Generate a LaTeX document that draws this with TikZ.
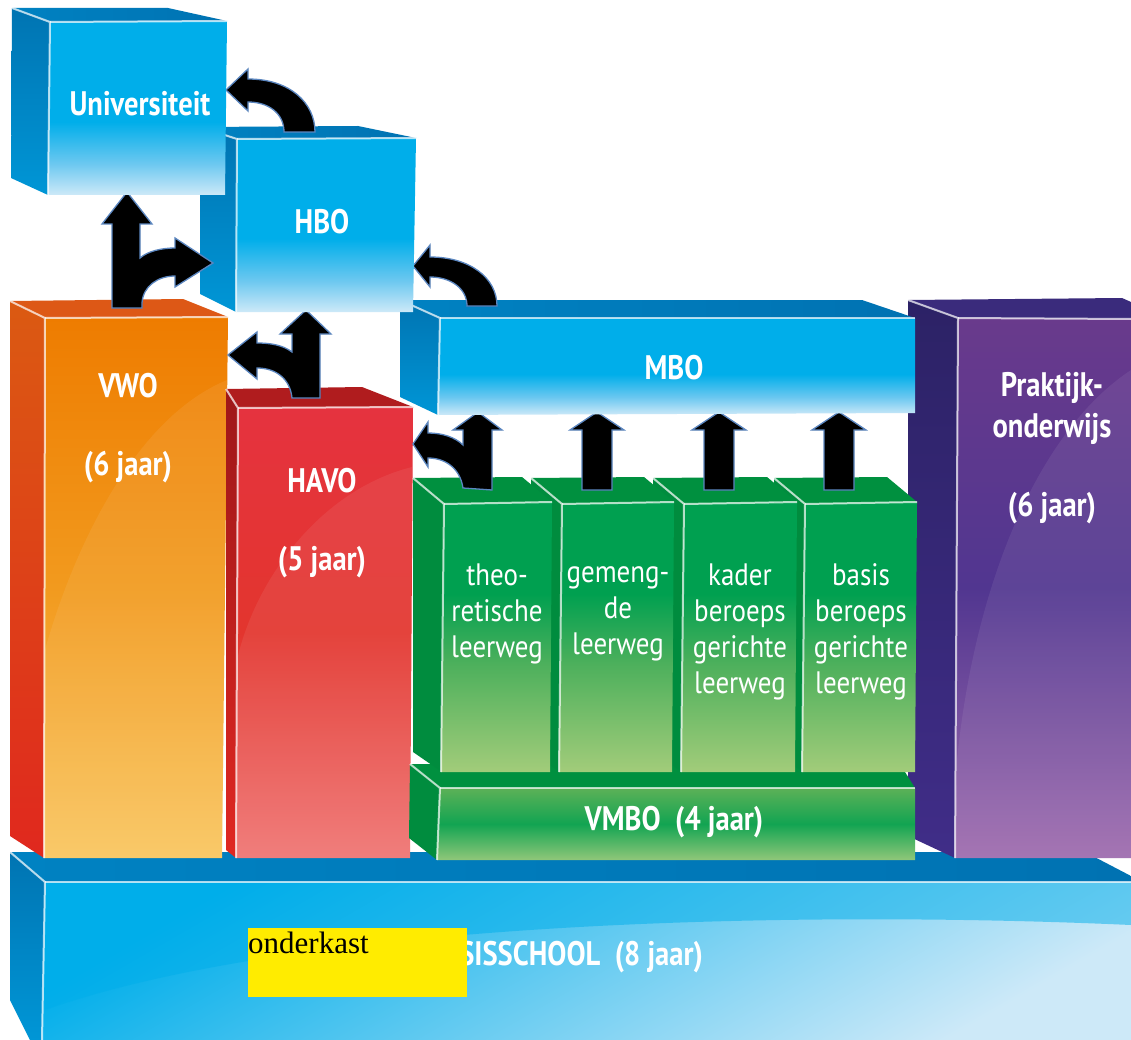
\documentclass[tikz,border=0pt]{standalone}
\usepackage{fontspec}
\setmainfont{PT Sans}
\newfontfamily\cond[FakeStretch=0.84]{PT Sans}
\newfontfamily\condr[FakeStretch=0.87]{PT Sans}
\newfontfamily\serifyel{Liberation Serif}
\definecolor{bTop}{HTML}{00AEEA}
\definecolor{bLight}{HTML}{6CC8F0}
\definecolor{bBot}{HTML}{CDE9F8}
\definecolor{bTopFace}{HTML}{0082C2}
\definecolor{bTopFaceB}{HTML}{0072B2}
\definecolor{bSideA}{HTML}{0074B2}
\definecolor{bSideB}{HTML}{0096D6}
\definecolor{oTop}{HTML}{EE7C00}
\definecolor{oMid}{HTML}{F29A1E}
\definecolor{oBot}{HTML}{F9C55E}
\definecolor{oSideA}{HTML}{DB5A12}
\definecolor{oSideB}{HTML}{E0281E}
\definecolor{oTopFace}{HTML}{DD5816}
\definecolor{rTop}{HTML}{E5333F}
\definecolor{rMid}{HTML}{E3352E}
\definecolor{rBot}{HTML}{EF7472}
\definecolor{rTopFace}{HTML}{B01C1E}
\definecolor{rSideA}{HTML}{9E1719}
\definecolor{rSideB}{HTML}{E02822}
\definecolor{pTop}{HTML}{693A8C}
\definecolor{pMid}{HTML}{513690}
\definecolor{pBot}{HTML}{9E6BAE}
\definecolor{pTopFace}{HTML}{3A2B7C}
\definecolor{pSideA}{HTML}{2C2266}
\definecolor{pSideB}{HTML}{402D88}
\definecolor{gTop}{HTML}{00A050}
\definecolor{gMid}{HTML}{4DB05C}
\definecolor{gBot}{HTML}{A2CC7A}
\definecolor{gTopFace}{HTML}{00903F}
\definecolor{gSide}{HTML}{008C3E}
\definecolor{vTop}{HTML}{5CB157}
\definecolor{vMid}{HTML}{12A452}
\definecolor{vBot}{HTML}{90C779}
\definecolor{arrowblue}{HTML}{5B86C0}
\definecolor{yel}{HTML}{FFEC00}
\pgfdeclareverticalshading{bluefr}{100bp}{color(0bp)=(bBot); color(25bp)=(bBot); color(34bp)=(bLight); color(46bp)=(bTop); color(100bp)=(bTop)}
\pgfdeclareverticalshading{greenfr}{100bp}{color(0bp)=(gBot); color(25bp)=(gBot); color(45bp)=(gMid); color(58bp)=(gTop); color(100bp)=(gTop)}
\tikzset{
  lbl/.style={text=white, font=\cond\bfseries\fontsize{34}{39}\selectfont, align=center},
  glbl/.style={text=white, font=\condr\fontsize{31}{36}\selectfont, align=center},
  arr/.style={fill=black, draw=arrowblue, line width=1.3pt, line join=miter},
  hl/.style={draw=white, line width=2pt, opacity=0.7},
  gloss/.style={fill=white, opacity=0.07},
  bfront/.style={shading=bluefr},
  bside/.style={top color=bSideA, bottom color=bSideB},
  btop/.style={left color=bTopFace, right color=bTopFaceB},
  ofront/.style={top color=oTop, bottom color=oBot, middle color=oMid},
  oside/.style={top color=oSideA, bottom color=oSideB},
  rfront/.style={top color=rTop, bottom color=rBot, middle color=rMid},
  rside/.style={top color=rSideA, bottom color=rSideB},
  pfront/.style={top color=pTop, bottom color=pBot, middle color=pMid},
  pside/.style={top color=pSideA, bottom color=pSideB},
  gfront/.style={shading=greenfr},
  vfront/.style={top color=vTop, bottom color=vBot, middle color=vMid},
}
\begin{document}
\begin{tikzpicture}[x=1pt,y=-1pt]
\useasboundingbox (0,0) rectangle (1131,1040);
\fill[white] (0,0) rectangle (1131,1040);

% ---------- Basisschool ----------
\shade[bside] (10,852) -- (45,882) -- (42,1040) -- (30,1040) -- (10,1000) -- cycle;
\shade[btop] (10,852) -- (1085,852) -- (1131,876) -- (1131,882) -- (45,882) -- cycle;
\shade[shading=axis, top color=bTop, bottom color=bBot, shading angle=30] (45,882) -- (1131,882) -- (1131,1040) -- (42,1040) -- cycle;
\fill[bTop, opacity=0.5] (45,882) -- (1131,882) -- (1131,925) .. controls (800,910) and (300,920) .. (45,1010) -- cycle;
\draw[hl] (10,852) -- (45,882) -- (42,1040);
\draw[hl] (45,882) -- (1131,882);
\node[lbl] (basis) at (564,957) {BASISSCHOOL\ \ (8 jaar)};
\node[fill=yel, minimum width=219pt, minimum height=69pt, inner sep=0pt, anchor=north west] (yb) at (248,928) {};
\node[anchor=base west, inner sep=0pt, font=\serifyel\fontsize{31}{35}\selectfont] (onderkast) at (248,953) {onderkast};

% ---------- Praktijkonderwijs ----------
\shade[pside] (908,300) -- (958,318) -- (955,858) -- (908,836) -- cycle;
\fill[pTopFace] (908,300) -- (1122,298) -- (1131,302) -- (1131,319) -- (958,318) -- cycle;
\shade[pfront] (958,318) -- (1131,319) -- (1131,858) -- (955,858) -- cycle;
\fill[gloss] (1131,370) .. controls (1040,430) and (975,580) .. (957,760) -- (955,858) -- (1131,858) -- cycle;
\draw[hl] (908,300) -- (958,318) -- (955,858);
\draw[hl] (958,318) -- (1131,319);
\node[lbl] (pro1) at (1052,388) {Praktijk-};
\node[lbl] (pro2) at (1052,429) {onderwijs};
\node[lbl] (pro3) at (1052,508) {(6 jaar)};

% ---------- VWO ----------
\shade[oside] (10,301) -- (45,318) -- (44,858) -- (10,836) -- cycle;
\fill[oTopFace] (10,301) -- (183,299) -- (228,317) -- (45,318) -- cycle;
\shade[ofront] (45,318) -- (228,317) -- (222,858) -- (44,858) -- cycle;
\fill[gloss] (227,380) .. controls (130,420) and (70,560) .. (45,650) -- (44,858) -- (222,858) -- cycle;
\draw[hl] (10,301) -- (45,318) -- (44,858);
\draw[hl] (45,318) -- (228,317);
\node[lbl] (vwo) at (128,386) {VWO};
\node[lbl] (vwo6) at (128,467) {(6 jaar)};

% ---------- HAVO ----------
\shade[rside] (226,389) -- (238,408) -- (236,858) -- (226,850) -- cycle;
\fill[rTopFace] (226,389) -- (362,387) -- (413,407) -- (238,408) -- cycle;
\shade[rfront] (238,408) -- (413,407) -- (410,858) -- (236,858) -- cycle;
\fill[gloss] (412,467) .. controls (320,490) and (255,580) .. (237,660) -- (236,858) -- (410,858) -- cycle;
\draw[hl] (226,389) -- (238,408) -- (236,858);
\draw[hl] (238,408) -- (413,407);
\node[lbl] (havo) at (322,481) {HAVO};
\node[lbl] (havo5) at (322,562) {(5 jaar)};

% ---------- VMBO base ----------
\fill[gSide] (410,764) -- (440,788) -- (437,860) -- (409,838) -- cycle;
\fill[gTopFace] (410,764) -- (900,764) -- (915,788) -- (440,788) -- cycle;
\shade[vfront] (440,788) -- (915,788) -- (915,860) -- (437,860) -- cycle;
\draw[hl] (410,764) -- (440,788) -- (437,860);
\draw[hl] (440,788) -- (915,788);
\node[lbl] (vmbo) at (674,822) {VMBO\ \ (4 jaar)};

% ---------- green blocks (right to left) ----------
\foreach \fl/\fr in {805/917, 684/797, 562/674, 444/552}{
  \fill[gSide] (\fl-31,478) -- (\fl,504) -- (\fl-2,772) -- (\fl-31,752) -- cycle;
  \fill[gTopFace] (\fl-31,478) -- (\fr-30,477) -- (\fr,502) -- (\fl,504) -- cycle;
  \shade[gfront] (\fl,504) -- (\fr,502) -- (\fr-2,772) -- (\fl-3,772) -- cycle;
  \draw[hl] (\fl-31,478) -- (\fl,504) -- (\fl-3,772);
  \draw[hl] (\fl,504) -- (\fr,502);
}
\node[glbl] (theo) at (497,614) {theo-\\retische\\leerweg};
\node[glbl] (gem) at (618,614) {gemeng-\\de\\leerweg};
\node[glbl] (kader) at (740,632) {kader\\beroeps\\gerichte\\leerweg};
\node[glbl] (basisb) at (861,632) {basis\\beroeps\\gerichte\\leerweg};

% ---------- arrows from green blocks to MBO ----------
\draw[arr] (492,490) -- (492,430) -- (502,430) -- (478,412) -- (453,430) -- (463,430) -- (463,445)
  .. controls (455,437) and (442,433) .. (428,433) -- (428,422) -- (413,444) -- (428,467) -- (428,458)
  .. controls (445,458) and (460,468) .. (463,488) -- cycle;
\foreach \c in {597,719,839}{
  \draw[arr] (\c+15,490) -- (\c+15,430) -- (\c+27,430) -- (\c,412) -- (\c-27,430) -- (\c-15,430) -- (\c-15,490) -- cycle;
}

% ---------- MBO ----------
\shade[bside] (400,300) -- (440,318) -- (438,415) -- (400,397) -- cycle;
\shade[btop] (400,300) -- (862,300) -- (915,318) -- (440,318) -- cycle;
\shade[bfront] (440,318) -- (915,318) -- (915,413) -- (438,415) -- cycle;
\draw[hl] (400,300) -- (440,318) -- (438,415);
\draw[hl] (440,318) -- (915,318);
\node[lbl] (mbo) at (674,368) {MBO};

% MBO -> HBO
\draw[arr] (467,306) .. controls (467,288) and (450,277) .. (430,277) -- (430,287) -- (413,266) -- (430,245) -- (430,257)
  .. controls (470,257) and (497,278) .. (497,306) -- cycle;
% HAVO -> HBO / VWO
\draw[arr] (320,398) -- (320,334) -- (331,334) -- (306,310) -- (280,334) -- (292,334) -- (292,352)
  .. controls (283,345) and (270,343) .. (257,343) -- (257,332) -- (228,355) -- (257,379) -- (257,368)
  .. controls (275,368) and (290,378) .. (292,398) -- cycle;

% ---------- HBO ----------
\shade[bside] (200,127) -- (237,139) -- (236,312) -- (200,294) -- cycle;
\shade[btop] (200,127) -- (358,126) -- (416,138) -- (237,139) -- cycle;
\shade[bfront] (237,139) -- (416,138) -- (413,312) -- (236,312) -- cycle;
\draw[hl] (200,127) -- (237,139) -- (236,312);
\draw[hl] (237,139) -- (416,138);
\node[lbl] (hbo) at (322,222) {HBO};

% VWO -> Universiteit / HBO
\draw[arr] (112,308) -- (112,224) -- (102,224) -- (127,192) -- (152,224) -- (140,224) -- (140,258)
  .. controls (148,251) and (162,248) .. (175,248) -- (175,238) -- (213,263) -- (175,287) -- (175,276)
  .. controls (158,276) and (143,286) .. (142,303) -- (142,308) -- cycle;
% HBO -> Universiteit
\draw[arr] (284,132) .. controls (284,113) and (268,102) .. (248,102) -- (248,111) -- (226,90) -- (248,69) -- (248,79)
  .. controls (290,79) and (315,103) .. (315,132) -- cycle;

% ---------- Universiteit ----------
\shade[bside] (12,8) -- (50,22) -- (48,195) -- (11,178) -- cycle;
\shade[btop] (12,8) -- (168,8) -- (227,21) -- (50,22) -- cycle;
\shade[bfront] (50,22) -- (227,21) -- (225,195) -- (48,195) -- cycle;
\draw[hl] (12,8) -- (50,22) -- (48,195);
\draw[hl] (50,22) -- (227,21);
\node[lbl] (uni) at (140,104) {Universiteit};
\end{tikzpicture}
\end{document}
